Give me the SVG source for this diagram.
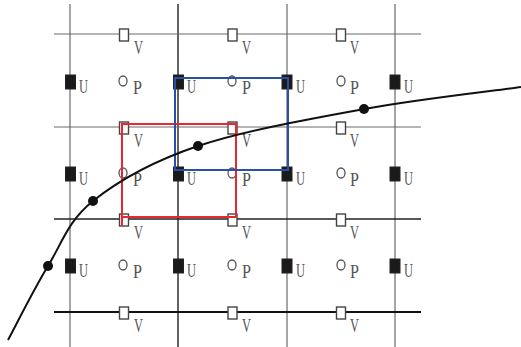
<svg xmlns="http://www.w3.org/2000/svg" width="521" height="347" viewBox="0 0 521 347">
<style>
.g{stroke:#6a6a6a;stroke-width:1.2;fill:none}
.d{stroke:#222;stroke-width:1.4;fill:none}
.b{stroke:#111;stroke-width:2;fill:none}
.vs{fill:#fff;stroke:#444;stroke-width:1.4}
.us{fill:#1a1a1a;stroke:#222;stroke-width:1}
.pc{fill:#fff;stroke:#555;stroke-width:1.3}
.t{font-family:"Liberation Serif",serif;font-size:19px;fill:#555}
.dot{fill:#111}
</style>
<rect width="521" height="347" fill="#fff"/>
<g id="grid">
<line class="g" x1="70" y1="4" x2="70" y2="347"/>
<line class="d" x1="178" y1="4" x2="178" y2="347"/>
<line class="g" x1="287" y1="4" x2="287" y2="347"/>
<line class="g" x1="395" y1="4" x2="395" y2="347"/>
<line class="g" x1="54" y1="34" x2="421" y2="34"/>
<line class="g" x1="54" y1="127" x2="421" y2="127"/>
<line class="d" x1="54" y1="219" x2="421" y2="219"/>
<line class="b" x1="54" y1="312" x2="421" y2="312"/>
</g>
<g id="nodes">
<g id="v-nodes">
<rect class="vs" x="119.5" y="29" width="9" height="12"/><text class="t" x="134" y="54" textLength="9" lengthAdjust="spacingAndGlyphs">V</text>
<rect class="vs" x="228" y="29" width="9" height="12"/><text class="t" x="242" y="54" textLength="9" lengthAdjust="spacingAndGlyphs">V</text>
<rect class="vs" x="336.5" y="29" width="9" height="12"/><text class="t" x="350" y="54" textLength="9" lengthAdjust="spacingAndGlyphs">V</text>
<rect class="vs" x="119.5" y="122" width="9" height="12"/><text class="t" x="134" y="147" textLength="9" lengthAdjust="spacingAndGlyphs">V</text>
<rect class="vs" x="228" y="122" width="9" height="12"/><text class="t" x="242" y="147" textLength="9" lengthAdjust="spacingAndGlyphs">V</text>
<rect class="vs" x="336.5" y="122" width="9" height="12"/><text class="t" x="350" y="147" textLength="9" lengthAdjust="spacingAndGlyphs">V</text>
<rect class="vs" x="119.5" y="214" width="9" height="12"/><text class="t" x="134" y="239" textLength="9" lengthAdjust="spacingAndGlyphs">V</text>
<rect class="vs" x="228" y="214" width="9" height="12"/><text class="t" x="242" y="239" textLength="9" lengthAdjust="spacingAndGlyphs">V</text>
<rect class="vs" x="336.5" y="214" width="9" height="12"/><text class="t" x="350" y="239" textLength="9" lengthAdjust="spacingAndGlyphs">V</text>
<rect class="vs" x="119.5" y="307" width="9" height="12"/><text class="t" x="134" y="332" textLength="9" lengthAdjust="spacingAndGlyphs">V</text>
<rect class="vs" x="228" y="307" width="9" height="12"/><text class="t" x="242" y="332" textLength="9" lengthAdjust="spacingAndGlyphs">V</text>
<rect class="vs" x="336.5" y="307" width="9" height="12"/><text class="t" x="350" y="332" textLength="9" lengthAdjust="spacingAndGlyphs">V</text>
</g>
<g id="u-nodes">
<rect class="us" x="65.5" y="75" width="10" height="14"/><text class="t" x="79" y="93" textLength="9" lengthAdjust="spacingAndGlyphs">U</text>
<rect class="us" x="173.5" y="75" width="10" height="14"/><text class="t" x="187" y="93" textLength="9" lengthAdjust="spacingAndGlyphs">U</text>
<rect class="us" x="282" y="75" width="10" height="14"/><text class="t" x="296" y="93" textLength="9" lengthAdjust="spacingAndGlyphs">U</text>
<rect class="us" x="390" y="75" width="10" height="14"/><text class="t" x="404" y="93" textLength="9" lengthAdjust="spacingAndGlyphs">U</text>
<rect class="us" x="65.5" y="167" width="10" height="14"/><text class="t" x="79" y="185" textLength="9" lengthAdjust="spacingAndGlyphs">U</text>
<rect class="us" x="173.5" y="167" width="10" height="14"/><text class="t" x="187" y="185" textLength="9" lengthAdjust="spacingAndGlyphs">U</text>
<rect class="us" x="282" y="167" width="10" height="14"/><text class="t" x="296" y="185" textLength="9" lengthAdjust="spacingAndGlyphs">U</text>
<rect class="us" x="390" y="167" width="10" height="14"/><text class="t" x="404" y="185" textLength="9" lengthAdjust="spacingAndGlyphs">U</text>
<rect class="us" x="65.5" y="259" width="10" height="14"/><text class="t" x="79" y="277" textLength="9" lengthAdjust="spacingAndGlyphs">U</text>
<rect class="us" x="173.5" y="259" width="10" height="14"/><text class="t" x="187" y="277" textLength="9" lengthAdjust="spacingAndGlyphs">U</text>
<rect class="us" x="282" y="259" width="10" height="14"/><text class="t" x="296" y="277" textLength="9" lengthAdjust="spacingAndGlyphs">U</text>
<rect class="us" x="390" y="259" width="10" height="14"/><text class="t" x="404" y="277" textLength="9" lengthAdjust="spacingAndGlyphs">U</text>
</g>
<g id="p-nodes">
<ellipse class="pc" cx="123" cy="81" rx="4" ry="5"/><text class="t" x="133" y="94" textLength="9" lengthAdjust="spacingAndGlyphs">P</text>
<ellipse class="pc" cx="232" cy="81" rx="4" ry="5"/><text class="t" x="242" y="94" textLength="9" lengthAdjust="spacingAndGlyphs">P</text>
<ellipse class="pc" cx="341" cy="81" rx="4" ry="5"/><text class="t" x="350" y="94" textLength="9" lengthAdjust="spacingAndGlyphs">P</text>
<ellipse class="pc" cx="123" cy="173" rx="4" ry="5"/><text class="t" x="133" y="186" textLength="9" lengthAdjust="spacingAndGlyphs">P</text>
<ellipse class="pc" cx="232" cy="173" rx="4" ry="5"/><text class="t" x="242" y="186" textLength="9" lengthAdjust="spacingAndGlyphs">P</text>
<ellipse class="pc" cx="341" cy="173" rx="4" ry="5"/><text class="t" x="350" y="186" textLength="9" lengthAdjust="spacingAndGlyphs">P</text>
<ellipse class="pc" cx="123" cy="265" rx="4" ry="5"/><text class="t" x="133" y="278" textLength="9" lengthAdjust="spacingAndGlyphs">P</text>
<ellipse class="pc" cx="232" cy="265" rx="4" ry="5"/><text class="t" x="242" y="278" textLength="9" lengthAdjust="spacingAndGlyphs">P</text>
<ellipse class="pc" cx="341" cy="265" rx="4" ry="5"/><text class="t" x="350" y="278" textLength="9" lengthAdjust="spacingAndGlyphs">P</text>
</g>
</g>
<g id="cells">
<path d="M122,124 H236 V217 H122 Z M122,217 V226" fill="none" stroke="#e8282e" stroke-width="2"/>
<path d="M175,78 H288 V170 H175 Z" fill="none" stroke="#2b4fa8" stroke-width="2"/>
</g>
<g id="connectors">
<path class="b" d="M8,340 C14.7,327.7 33.8,289.2 48,266 C62.2,242.8 68,221 93,201 C118,181 152.8,161.3 198,146 C243.2,130.7 310.2,118.8 364,109 C417.8,99.2 494.8,90.7 521,87"/>
<circle class="dot" cx="48" cy="266" r="5"/>
<circle class="dot" cx="93" cy="201" r="5"/>
<circle class="dot" cx="198" cy="146" r="5"/>
<circle class="dot" cx="364" cy="109" r="5"/>
</g>
</svg>
